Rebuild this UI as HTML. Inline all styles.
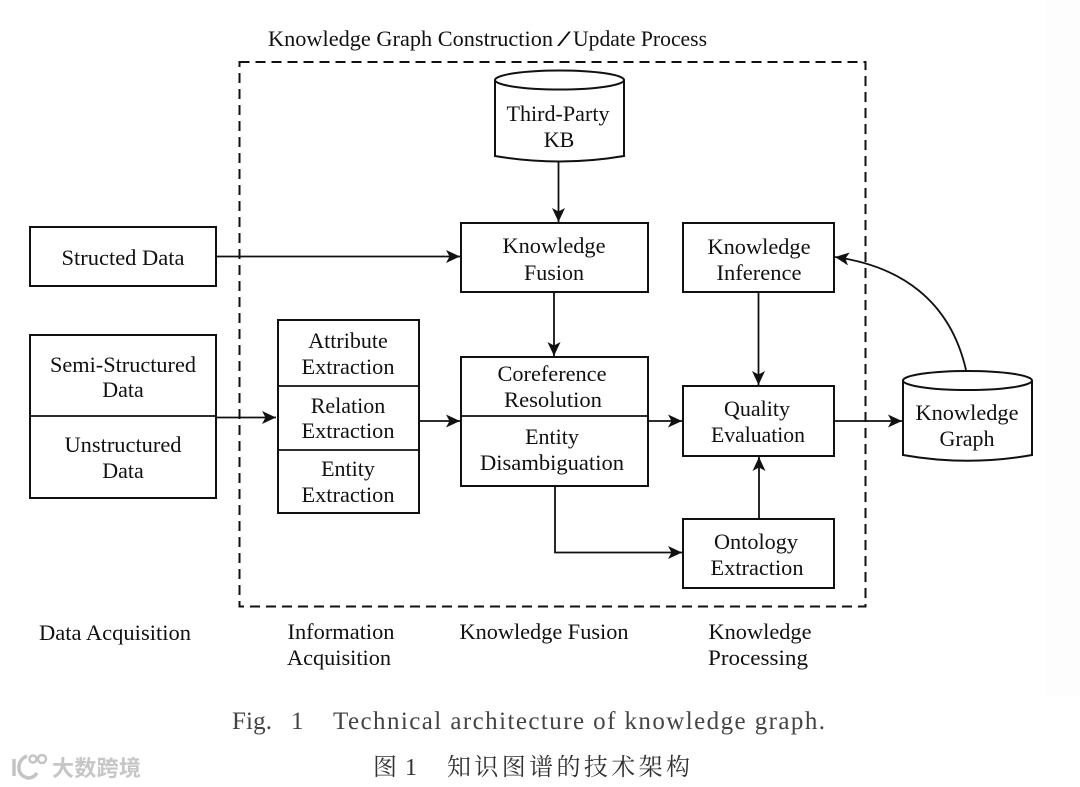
<!DOCTYPE html>
<html><head><meta charset="utf-8"><style>
html,body{margin:0;padding:0;background:#fff;width:1080px;height:787px;overflow:hidden}
svg{display:block}
.t{font-family:"Liberation Serif","Noto Serif CJK SC",serif;font-size:22px;fill:#111;text-anchor:middle}
.b{fill:#fff;stroke:#111;stroke-width:2}
.l{fill:none;stroke:#111;stroke-width:1.800}
.a{fill:#111;stroke:none}
.c{font-family:"Liberation Serif",serif;font-size:25px;fill:#444}
</style></head><body>
<svg width="1080" height="787" viewBox="0 0 1080 787" xmlns="http://www.w3.org/2000/svg">
<defs>
<marker id="m" markerUnits="userSpaceOnUse" markerWidth="16" markerHeight="14" refX="14" refY="7" orient="auto"><path class="a" d="M0 0.500 L14 7 L0 13.500 L3.500 7Z"/></marker>
</defs>
<rect width="1080" height="787" fill="#fff"/>
<rect x="1045" y="0" width="35" height="697" fill="#fdfdfd"/>

<text class="t" x="268" y="46" style="text-anchor:start" textLength="285" lengthAdjust="spacingAndGlyphs">Knowledge Graph Construction</text>
<text class="t" x="557" y="46" style="text-anchor:start" textLength="14" lengthAdjust="spacingAndGlyphs">/</text>
<text class="t" x="573" y="46" style="text-anchor:start" textLength="134" lengthAdjust="spacingAndGlyphs">Update Process</text>
<rect x="239.500" y="62" width="626" height="544.500" fill="none" stroke="#111" stroke-width="2" stroke-dasharray="10 6"/>

<!-- Third party KB -->
<path class="b" d="M495 80 V156 Q559.500 167 624 156 V80"/>
<ellipse class="b" cx="559.500" cy="80" rx="64.500" ry="9.500"/>
<text class="t" x="558" y="121" textLength="103" lengthAdjust="spacingAndGlyphs">Third-Party</text>
<text class="t" x="559" y="147">KB</text>

<!-- Left boxes -->
<rect class="b" x="30" y="227" width="186" height="59"/>
<text class="t" x="123" y="265" textLength="123" lengthAdjust="spacingAndGlyphs">Structed Data</text>
<rect class="b" x="30" y="335" width="186" height="163"/>
<path class="l" d="M30 416 H216"/>
<text class="t" x="123" y="372" textLength="146" lengthAdjust="spacingAndGlyphs">Semi-Structured</text>
<text class="t" x="123" y="397">Data</text>
<text class="t" x="123" y="452" textLength="117" lengthAdjust="spacingAndGlyphs">Unstructured</text>
<text class="t" x="123" y="478">Data</text>

<!-- Extraction -->
<rect class="b" x="278" y="320" width="141" height="193"/>
<path class="l" d="M278 386 H419 M278 450 H419"/>
<text class="t" x="348" y="348">Attribute</text>
<text class="t" x="348" y="374" textLength="93" lengthAdjust="spacingAndGlyphs">Extraction</text>
<text class="t" x="348" y="413">Relation</text>
<text class="t" x="348" y="438" textLength="93" lengthAdjust="spacingAndGlyphs">Extraction</text>
<text class="t" x="348" y="476">Entity</text>
<text class="t" x="348" y="502" textLength="93" lengthAdjust="spacingAndGlyphs">Extraction</text>

<!-- Fusion -->
<rect class="b" x="461" y="223" width="187" height="69"/>
<text class="t" x="554" y="253" textLength="103" lengthAdjust="spacingAndGlyphs">Knowledge</text>
<text class="t" x="554" y="280">Fusion</text>
<rect class="b" x="461" y="357" width="187" height="129"/>
<path class="l" d="M461 416 H648"/>
<text class="t" x="552" y="381" textLength="109" lengthAdjust="spacingAndGlyphs">Coreference</text>
<text class="t" x="553" y="407" textLength="98" lengthAdjust="spacingAndGlyphs">Resolution</text>
<text class="t" x="552" y="444">Entity</text>
<text class="t" x="552" y="470" textLength="144" lengthAdjust="spacingAndGlyphs">Disambiguation</text>

<!-- Right col -->
<rect class="b" x="683" y="223" width="151" height="69"/>
<text class="t" x="759" y="254" textLength="103" lengthAdjust="spacingAndGlyphs">Knowledge</text>
<text class="t" x="759" y="280" textLength="85" lengthAdjust="spacingAndGlyphs">Inference</text>
<rect class="b" x="683" y="386" width="151" height="70"/>
<text class="t" x="757" y="416">Quality</text>
<text class="t" x="758" y="442" textLength="94" lengthAdjust="spacingAndGlyphs">Evaluation</text>
<rect class="b" x="683" y="519" width="151" height="69"/>
<text class="t" x="756" y="549" textLength="84" lengthAdjust="spacingAndGlyphs">Ontology</text>
<text class="t" x="757" y="575" textLength="93" lengthAdjust="spacingAndGlyphs">Extraction</text>

<!-- Knowledge Graph cylinder -->
<path class="b" d="M903 381 V455 Q967.500 466.500 1032 455 V381"/>
<ellipse class="b" cx="967.500" cy="380.500" rx="64.500" ry="9.500"/>
<text class="t" x="967" y="420" textLength="103" lengthAdjust="spacingAndGlyphs">Knowledge</text>
<text class="t" x="967" y="446">Graph</text>

<!-- Connectors -->
<path class="l" marker-end="url(#m)" d="M558.500 161 V222"/>
<path class="l" marker-end="url(#m)" d="M216 256.500 H460"/>
<path class="l" marker-end="url(#m)" d="M554 292 V356"/>
<path class="l" marker-end="url(#m)" d="M216 417.500 H276"/>
<path class="l" marker-end="url(#m)" d="M419 421 H460"/>
<path class="l" marker-end="url(#m)" d="M648 421 H682"/>
<path class="l" marker-end="url(#m)" d="M758.500 292 V385"/>
<path class="l" marker-end="url(#m)" d="M759 519 V457"/>
<path class="l" marker-end="url(#m)" d="M555 486 V552.500 H682"/>
<path class="l" marker-end="url(#m)" d="M834 421 H902"/>
<path class="l" marker-end="url(#m)" d="M966 370 C950 300 900 266 835 257"/>

<!-- Bottom labels -->
<text class="t" x="115" y="640" textLength="152" lengthAdjust="spacingAndGlyphs">Data Acquisition</text>
<text class="t" x="341" y="639" textLength="107" lengthAdjust="spacingAndGlyphs">Information</text>
<text class="t" x="339" y="665" textLength="104" lengthAdjust="spacingAndGlyphs">Acquisition</text>
<text class="t" x="544" y="639" textLength="169" lengthAdjust="spacingAndGlyphs">Knowledge Fusion</text>
<text class="t" x="760" y="639" textLength="103" lengthAdjust="spacingAndGlyphs">Knowledge</text>
<text class="t" x="758" y="665" textLength="100" lengthAdjust="spacingAndGlyphs">Processing</text>

<!-- Captions -->
<text class="c" x="232" y="729" textLength="40" lengthAdjust="spacing">Fig.</text>
<text class="c" x="291" y="729">1</text>
<text class="c" x="333" y="729" textLength="492" lengthAdjust="spacing">Technical architecture of knowledge graph.</text>
<text class="t" x="373" y="775" style="fill:#333;font-size:24px;text-anchor:start;font-family:'Noto Serif CJK SC',serif">图</text>
<text class="t" x="411" y="775" style="fill:#333;font-size:24px">1</text>
<text class="t" x="447" y="775" style="fill:#333;font-size:24px;text-anchor:start;font-family:'Noto Serif CJK SC',serif" textLength="243">知识图谱的技术架构</text>

<!-- Watermark -->
<g fill="none" stroke="#c4c4c4" stroke-width="3.500">
<path d="M14 759 V776"/>
<path d="M27 756 C16 760 16 776 28 778 C32 778 35 776 37 773"/>
<circle cx="33" cy="759" r="3.500" stroke-width="2.500"/>
<circle cx="42" cy="759" r="4" stroke-width="2.500"/>
</g>
<text x="52" y="776" style="font-family:'Noto Sans CJK SC',sans-serif;font-size:22px;fill:#c6c6c6;font-weight:700" textLength="89">大数跨境</text>
</svg>
</body></html>
